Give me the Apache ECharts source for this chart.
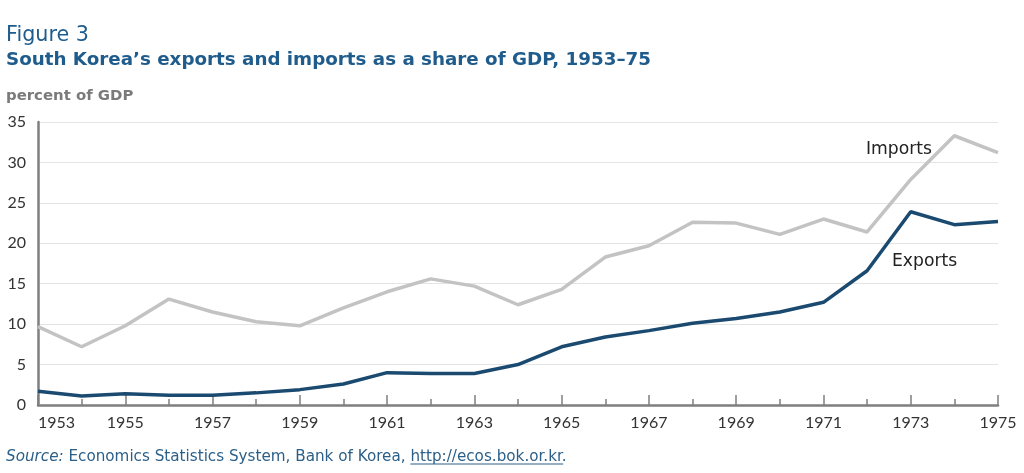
<!DOCTYPE html>
<html>
<head>
<meta charset="utf-8">
<script src="https://cdn.jsdelivr.net/npm/echarts@6/dist/echarts.min.js"></script>
<style>
  html, body { margin: 0; padding: 0; background: #fff; }
  #chart { width: 1024px; height: 473px; }
</style>
</head>
<body>
<div id="chart"></div>
<script>
const years = ['1953', '1954', '1955', '1956', '1957', '1958', '1959', '1960', '1961', '1962', '1963',
  '1964', '1965', '1966', '1967', '1968', '1969', '1970', '1971', '1972', '1973', '1974', '1975'];
const imports = [9.7, 7.2, 9.8, 13.1, 11.5, 10.3, 9.8, 12.0, 14.0, 15.6, 14.7,
  12.4, 14.3, 18.3, 19.7, 22.6, 22.5, 21.1, 23.0, 21.4, 27.9, 33.3, 31.2];
const exports = [1.7, 1.1, 1.4, 1.2, 1.2, 1.5, 1.9, 2.6, 4.0, 3.9, 3.9,
  5.0, 7.2, 8.4, 9.2, 10.1, 10.7, 11.5, 12.7, 16.6, 23.9, 22.3, 22.7];
const yTicks = [0, 5, 10, 15, 20, 25, 30, 35];

const FONT = '"DejaVu Sans", sans-serif';
const TICK_FONT = 'Lato, sans-serif';
const BLUE = '#1f5c8c';
const SRC = '#2b5f88';

const titleText = 'South Korea\u2019s exports and imports as a share of GDP, 1953\u201375';
const srcPre = 'Source:';
const srcMid = ' Economics Statistics System, Bank of Korea, ';
const srcLink = 'http://ecos.bok.or.kr';

// pick a font size so a text spans roughly the same width as in the figure
const ctx = document.createElement('canvas').getContext('2d');
function textWidth(text, size, weight, style) {
  ctx.font = (style || 'normal') + ' ' + (weight || 'normal') + ' ' + size + 'px ' + FONT;
  return ctx.measureText(text).width;
}
function fitSize(text, target, weight) {
  const w = textWidth(text, 20, weight);
  return Math.round(20 * target / w * 10) / 10;
}

const figSize = fitSize('Figure 3', 83, 'normal');
const titleSize = fitSize(titleText, 644, 'bold');
const unitSize = fitSize('percent of GDP', 127, 'bold');
const noteSize = fitSize('Imports', 66, 'normal');
const srcSize = fitSize(srcPre + srcMid + srcLink + '.', 561, 'normal');
const wPre = textWidth(srcPre, srcSize, 'normal', 'italic');
const wMid = textWidth(srcMid, srcSize);
const wLink = textWidth(srcLink, srcSize);
const srcLeft = 6;

// place a text by its vertical centre
function centred(y, size) { return Math.round(y - size * 0.6 + 4); }

const chart = echarts.init(document.getElementById('chart'));

chart.setOption({
  animation: false,
  grid: { left: 38, right: 26, top: 122, bottom: 68, containLabel: false },
  xAxis: [
    {
      type: 'category',
      data: years,
      boundaryGap: false,
      axisLine: { lineStyle: { color: '#7f7f7f', width: 2.5 } },
      axisTick: { show: true, inside: true, interval: 0, length: 6, lineStyle: { color: '#7f7f7f', width: 1.5 } },
      axisLabel: {
        interval: 1, color: '#333', fontFamily: TICK_FONT, fontSize: 16, margin: 10,
        alignMinLabel: 'left'
      },
      splitLine: { show: false }
    },
    {
      // longer ticks on the labelled years
      type: 'category',
      data: years,
      boundaryGap: false,
      position: 'bottom',
      axisLine: { show: false },
      axisTick: { show: true, inside: true, interval: 1, length: 10, lineStyle: { color: '#7f7f7f', width: 1.5 } },
      axisLabel: { show: false },
      splitLine: { show: false }
    }
  ],
  yAxis: {
    type: 'value',
    min: yTicks[0],
    max: yTicks[yTicks.length - 1],
    interval: 5,
    axisLine: { show: true, lineStyle: { color: '#7f7f7f', width: 2.5 } },
    axisTick: { show: false },
    axisLabel: { color: '#333', fontFamily: TICK_FONT, fontSize: 16, margin: 12 },
    splitLine: { lineStyle: { color: '#e4e4e4', width: 1 } }
  },
  series: [
    {
      name: 'Imports',
      type: 'line',
      data: imports,
      symbol: 'none',
      lineStyle: { color: '#c3c3c3', width: 3.5 },
      z: 2
    },
    {
      name: 'Exports',
      type: 'line',
      data: exports,
      symbol: 'none',
      lineStyle: { color: '#1b4a70', width: 3.5 },
      z: 3
    }
  ],
  graphic: [
    { type: 'text', left: 6, top: centred(33, figSize), style: { text: 'Figure 3', fontFamily: FONT, fontSize: figSize, fill: BLUE } },
    { type: 'text', left: 6, top: centred(58, titleSize), style: { text: titleText, fontFamily: FONT, fontSize: titleSize, fontWeight: 'bold', fill: BLUE } },
    { type: 'text', left: 6, top: centred(94, unitSize), style: { text: 'percent of GDP', fontFamily: FONT, fontSize: unitSize, fontWeight: 'bold', fill: '#7a7a7a' } },
    { type: 'text', left: 866, top: centred(147, noteSize), style: { text: 'Imports', fontFamily: FONT, fontSize: noteSize, fill: '#222' } },
    { type: 'text', left: 892, top: centred(259, noteSize), style: { text: 'Exports', fontFamily: FONT, fontSize: noteSize, fill: '#222' } },
    {
      type: 'text', left: srcLeft, top: centred(455, srcSize),
      style: {
        text: '{i|' + srcPre + '}' + srcMid + srcLink + '.',
        fontFamily: FONT, fontSize: srcSize, fill: SRC,
        rich: {
          i: { fontStyle: 'italic', fontFamily: FONT, fontSize: srcSize, fill: SRC }
        }
      }
    },
    {
      type: 'line',
      shape: { x1: srcLeft + wPre + wMid, y1: 464, x2: srcLeft + wPre + wMid + wLink, y2: 464 },
      style: { stroke: SRC, lineWidth: 1 }
    }
  ]
});
</script>
</body>
</html>
